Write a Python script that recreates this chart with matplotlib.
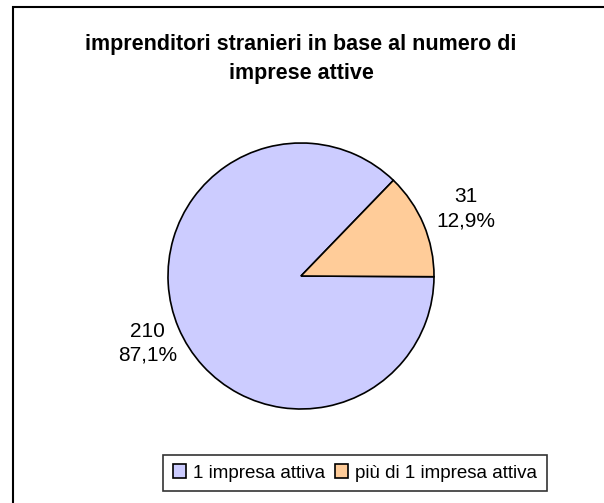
import matplotlib.pyplot as plt
from matplotlib.patches import Rectangle

plt.rcParams['font.family'] = ['Liberation Sans', 'DejaVu Sans']

# Data
categories = ['1 impresa attiva', 'più di 1 impresa attiva']
counts = [210, 31]
colors = ['#CCCCFF', '#FFCC99']

total = sum(counts)
labels = [f"{c}\n{c / total * 100:.1f}%".replace('.', ',') for c in counts]

W, H = 604, 503
fig = plt.figure(figsize=(W / 100, H / 100), dpi=100)
ax = fig.add_axes([0, 0, 1, 1])
ax.axis('off')

# outer chart frame (right/bottom are outside the picture)
ax.add_patch(Rectangle((13, -20), W + 20, H - 7 + 20, fill=False,
                       edgecolor='black', linewidth=1.5))

wedges, texts = ax.pie(counts, colors=colors, labels=labels,
                       center=(301, H - 276), radius=133,
                       startangle=46, counterclock=True,
                       labeldistance=1.3,
                       wedgeprops=dict(edgecolor='black', linewidth=1.2),
                       textprops=dict(fontsize=15, ha='center', va='center',
                                      linespacing=1.35))
# nudge the labels to the right like the reference
for t in texts:
    x, y = t.get_position()
    t.set_position((x + 6, y))

ax.set_xlim(0, W)
ax.set_ylim(0, H)
ax.set_aspect('auto')

ax.text(301, H - 59, "imprenditori stranieri in base al numero di\nimprese attive",
        ha='center', va='center', fontsize=15.5, fontweight='bold', linespacing=1.45)

leg = ax.legend(wedges, categories, loc='center', bbox_to_anchor=(355, H - 473),
                bbox_transform=ax.transData, ncol=2, fontsize=13.5,
                frameon=True, fancybox=False, edgecolor='black',
                handlelength=0.7, handleheight=0.7, handletextpad=0.4,
                columnspacing=0.5, borderpad=0.5)
leg.get_frame().set_linewidth(1.2)

fig.savefig('out.png', dpi=100)
